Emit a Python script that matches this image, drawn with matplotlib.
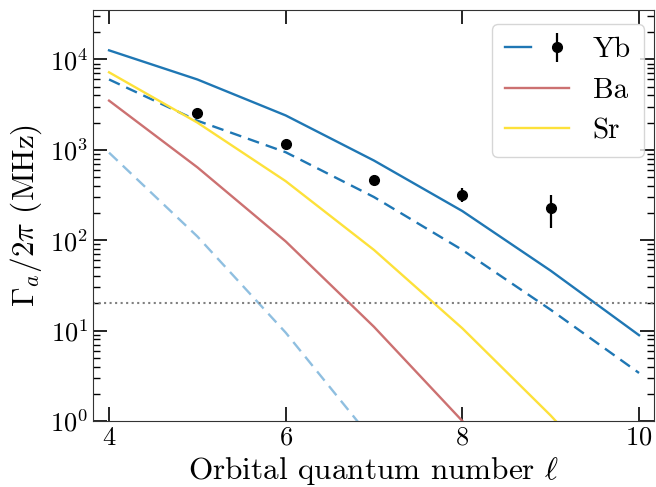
import matplotlib
matplotlib.use("Agg")
import matplotlib.pyplot as plt
from matplotlib.legend_handler import HandlerTuple
from matplotlib.ticker import LogLocator, NullFormatter

plt.rcParams['font.family'] = 'serif'
plt.rcParams['font.serif'] = ['cmr10']
plt.rcParams['mathtext.fontset'] = 'cm'
plt.rcParams['axes.unicode_minus'] = False
plt.rcParams['axes.formatter.use_mathtext'] = True

ell = [4, 5, 6, 7, 8, 9, 10]
yb_solid = [12600, 6000, 2400, 760, 210, 46, 8.9]
yb_dashed = [6000, 2100, 940, 300, 78, 17, 3.4]
yb_light = [930, 110, 9.5, 0.59]
ba = [3500, 640, 97, 11, 1.0, 0.08]
sr = [7200, 2000, 450, 78, 10.6, 1.15, 0.1]

exp_ell = [5, 6, 7, 8, 9]
exp_val = [2550, 1170, 465, 320, 225]
exp_lo = [150, 80, 50, 55, 90]
exp_hi = [150, 90, 55, 55, 90]

threshold = 20

fig = plt.figure(figsize=(6.56, 4.87), dpi=100)
ax = fig.add_axes([0.142, 0.1355, 0.855, 0.8435])

blue = '#1f77b4'
lblue = '#8fbfe0'
red = '#cc7171'
yellow = '#fde13a'

l_yb, = ax.plot(ell, yb_solid, color=blue, lw=1.7)
ax.plot(ell, yb_dashed, color=blue, lw=1.7, ls=(0, (5, 3)))
ax.plot(ell[:len(yb_light)], yb_light, color=lblue, lw=1.7, ls=(0, (5, 3)))
l_ba, = ax.plot(ell[:len(ba)], ba, color=red, lw=1.7)
l_sr, = ax.plot(ell, sr, color=yellow, lw=1.7)
eb = ax.errorbar(exp_ell, exp_val, yerr=[exp_lo, exp_hi], fmt='o', color='black',
                 ms=7, elinewidth=1.6, capsize=0)
ax.axhline(threshold, color='gray', ls=':', lw=1.5)

ax.set_yscale('log')
ax.set_xlim(3.82, 10.17)
ax.set_ylim(1, 3.5e4)
ax.set_xticks([4, 6, 8, 10])
ax.yaxis.set_major_locator(LogLocator(base=10, numticks=10))
ax.yaxis.set_minor_locator(LogLocator(base=10, subs=range(2, 10), numticks=10))
ax.yaxis.set_minor_formatter(NullFormatter())
ax.tick_params(which='both', direction='in', top=True, right=True, labelsize=19)
ax.tick_params(which='major', length=10, width=1.2)
ax.tick_params(which='minor', length=5, width=1.0)
for s in ax.spines.values():
    s.set_color('#333333')

ax.set_xlabel(r'Orbital quantum number $\ell$', fontsize=22.5)
ax.set_ylabel(r'$\Gamma_a/2\pi$ (MHz)', fontsize=22.5)

ax.legend([(l_yb, eb), l_ba, l_sr], ['Yb', 'Ba', 'Sr'],
          handler_map={tuple: HandlerTuple(ndivide=None)},
          loc='upper right', bbox_to_anchor=(0.982, 0.967), borderaxespad=0,
          fontsize=21, handlelength=2.2, borderpad=0.45, labelspacing=0.48)

fig.savefig('out.png', dpi=100)
